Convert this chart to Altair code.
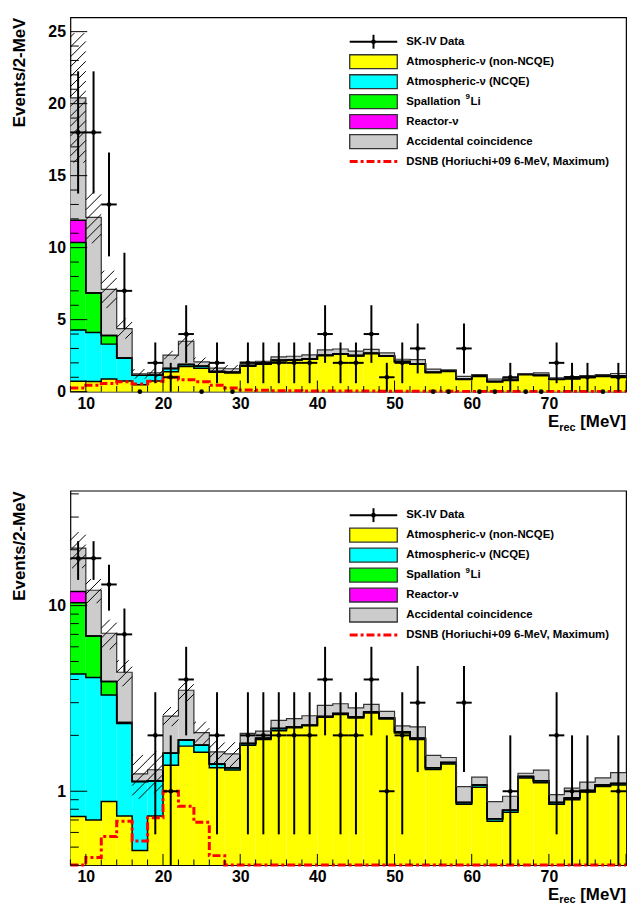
import math
import altair as alt
import pandas as pd

# ---------------- values ----------------
bin_low = list(range(8, 80, 2))          # 2-MeV bins, 8..80 MeV
sk4_data = [18, 18, 13, 7, 0, 2, 1, 4, 0, 2, 0, 2, 2, 2, 2, 2, 4, 2,
            2, 4, 1, 2, 3, 0, 0, 3, 0, 0, 1, 0, 0, 2, 1, 1, 0, 1]
atm_non_ncqe = [0.73, 0.70, 0.88, 0.735, 0.48, 0.735, 1.38, 1.75, 1.62, 1.34, 1.30, 1.77,
                1.90, 2.12, 2.20, 2.25, 2.50, 2.59, 2.48, 2.64, 2.45, 2.06, 1.90, 1.31,
                1.40, 0.85, 1.05, 0.69, 0.77, 1.18, 1.11, 0.85, 0.90, 0.99, 1.06, 1.08]
atm_ncqe = [3.55, 3.40, 2.42, 1.58, 0.65, 0.40, 0.22, 0.14, 0.15, 0.06, 0.04, 0.04,
            0.03, 0.06, 0.02, 0.02, 0.03, 0.03, 0.03, 0.03, 0.03, 0.03, 0.03, 0.03,
            0.03, 0.02, 0.03, 0.02, 0.02, 0.02, 0.03, 0.02, 0.02, 0.02, 0.02, 0.02]
spallation_li9 = [6.07, 2.75, 0.60, 0.03, 0, 0, 0, 0, 0, 0, 0, 0,
                  0, 0, 0, 0, 0, 0, 0, 0, 0, 0, 0, 0,
                  0, 0, 0, 0, 0, 0, 0, 0, 0, 0, 0, 0]
reactor_nu = [1.55, 0, 0, 0, 0, 0, 0, 0, 0, 0, 0, 0,
              0, 0, 0, 0, 0, 0, 0, 0, 0, 0, 0, 0,
              0, 0, 0, 0, 0, 0, 0, 0, 0, 0, 0, 0]
accidental = [8.5, 5.25, 3.2, 2.03, 0.11, 0.17, 0.94, 1.61, 0.30, 0.23, 0.25, 0.24,
              0.18, 0.23, 0.24, 0.28, 0.37, 0.34, 0.30, 0.27, 0.21, 0.16, 0.29, 0.22,
              0.09, 0.19, 0.11, 0.17, 0.15, 0.05, 0.16, 0.09, 0.12, 0.11, 0.10, 0.16]
bkg_err = [4.5, 1.8, 1.3, 0.7, 0.33, 0.33, 0.30, 0.50, 0.30, 0.25, 0.25, 0,
           0, 0, 0, 0, 0, 0, 0, 0, 0, 0, 0, 0,
           0, 0, 0, 0, 0, 0, 0, 0, 0, 0, 0, 0]
dsnb = [0.25, 0.44, 0.57, 0.69, 0.54, 0.72, 1.00, 0.83, 0.68, 0.45, 0.25, 0.12,
        0.09, 0.07, 0.06, 0.05, 0.05, 0.04, 0.04, 0.04, 0.03, 0.03, 0.03, 0.03,
        0.03, 0.02, 0.02, 0.02, 0.02, 0.02, 0.02, 0.02, 0.02, 0.02, 0.02, 0.02]

x_tick_labels = [10, 20, 30, 40, 50, 60, 70]
x_major_ticks = [10, 20, 30, 40, 50, 60, 70, 80]
x_minor_ticks = [v for v in range(8, 81, 2) if v % 10 != 0]
y_lin_labels = [0, 5, 10, 15, 20, 25]
y_lin_minor = [v for v in range(1, 26) if v % 5 != 0]
y_log_labels = [1, 10]
y_log_minor = [0.4, 0.5, 0.6, 0.7, 0.8, 0.9, 2, 3, 4, 5, 6, 7, 8, 9, 20, 30, 40]

# legend entries: (main text, superscript, text after superscript)
legend_labels = [("SK-IV Data", "", ""),
                 ("Atmospheric-\u03bd (non-NCQE)", "", ""),
                 ("Atmospheric-\u03bd (NCQE)", "", ""),
                 ("Spallation", "9", "Li"),
                 ("Reactor-\u03bd", "", ""),
                 ("Accidental coincidence", "", ""),
                 ("DSNB (Horiuchi+09 6-MeV, Maximum)", "", "")]
layer_colors = ["#ffff00", "#00ffff", "#00ff00", "#ff00ff", "#cccccc"]

# ---------------- layout / style ----------------
W, H = 561, 378
XDOM = [8, 80]
YLIN = [0, 26]
YLOG = [0.4, 41.6]
FONT = "Liberation Sans"
HATCH_SP = 10

bins = pd.DataFrame({"lo": bin_low, "hi": [b + 2 for b in bin_low], "n": sk4_data})
levels = [atm_non_ncqe]
for comp in (atm_ncqe, spallation_li9, reactor_nu, accidental):
    levels.append([a + b for a, b in zip(levels[-1], comp)])
total = levels[-1]


def xpix(x):
    return (x - XDOM[0]) / (XDOM[1] - XDOM[0]) * W


def xinv(p):
    return XDOM[0] + p / W * (XDOM[1] - XDOM[0])


def ypix(v, log):
    if log:
        l0, l1 = math.log10(YLOG[0]), math.log10(YLOG[1])
        v = min(max(v, YLOG[0]), YLOG[1])
        return H * (1 - (math.log10(v) - l0) / (l1 - l0))
    v = min(max(v, YLIN[0]), YLIN[1])
    return H * (1 - v / YLIN[1])


def yinv(p, log):
    if log:
        l0, l1 = math.log10(YLOG[0]), math.log10(YLOG[1])
        return 10 ** (l0 + (1 - p / H) * (l1 - l0))
    return YLIN[1] * (1 - p / H)


def step_frame(values, base_name):
    rows = []
    for i, (lo, v) in enumerate(zip(bin_low, values)):
        rows.append({"x": lo, "v": v, "lvl": base_name, "ord": 2 * i})
        rows.append({"x": lo + 2, "v": v, "lvl": base_name, "ord": 2 * i + 1})
    return rows


def text_layer(one, txt, x, y, size, align="left", baseline="middle"):
    return alt.Chart(one).mark_text(align=align, baseline=baseline, font=FONT,
                                    fontWeight="bold", fontSize=size, color="black").encode(
        x=alt.value(x), y=alt.value(y), text=alt.value(txt))


def panel(log):
    if log:
        yscale = alt.Scale(type="log", domain=YLOG, clamp=True, nice=False)
        base = 1e-3
        ylabels, ymajor, yminor = y_log_labels, y_log_labels, y_log_minor
    else:
        yscale = alt.Scale(type="linear", domain=YLIN, nice=False, zero=False)
        base = 0.0
        ylabels, ymajor, yminor = y_lin_labels, y_lin_labels, y_lin_minor
    xscale = alt.Scale(domain=XDOM, nice=False, zero=False)
    xaxis = alt.Axis(values=x_tick_labels, ticks=False, domain=False, grid=False, title=None,
                     labelFont=FONT, labelFontWeight="bold", labelFontSize=16,
                     labelColor="black", labelPadding=4, labelFlush=False)
    yaxis = alt.Axis(values=ylabels, format="d", ticks=False, domain=False, grid=False,
                     labelFont=FONT, labelFontWeight="bold", labelFontSize=16,
                     labelColor="black", labelPadding=5, labelFlush=False,
                     title="Events/2-MeV", titleFont=FONT, titleFontWeight="bold",
                     titleFontSize=17, titleColor="black", titleAngle=270,
                     titleAlign="right", titleBaseline="alphabetic", titleX=-46, titleY=0)

    def X(f):
        return alt.X(f, type="quantitative", scale=xscale, axis=xaxis)

    def Y(f):
        return alt.Y(f, type="quantitative", scale=yscale, axis=yaxis)

    layers = []
    # stacked fills
    bottoms = [[base] * len(bin_low)] + levels[:-1]
    for col, b, t in zip(layer_colors, bottoms, levels):
        d = pd.DataFrame({"lo": bin_low, "hi": [v + 2 for v in bin_low],
                          "b": [max(v, base) for v in b], "t": t})
        layers.append(alt.Chart(d).mark_rect(fill=col, strokeWidth=0).encode(
            x=X("lo"), x2="hi", y=Y("b"), y2="t"))
    # outlines of each stacked level
    srows = []
    for j, lev in enumerate(levels):
        srows += step_frame(lev, "L%d" % j)
    sdf = pd.DataFrame(srows)
    layers.append(alt.Chart(sdf[sdf.lvl != "L4"]).mark_line(color="black", strokeWidth=1.5).encode(
        x=X("x"), y=Y("v"), detail="lvl:N", order="ord:Q"))
    layers.append(alt.Chart(sdf[sdf.lvl == "L4"]).mark_line(color="#333333", strokeWidth=1.2).encode(
        x=X("x"), y=Y("v"), detail="lvl:N", order="ord:Q"))
    # hatched uncertainty band on total background
    segs = []
    for lo, t, e in zip(bin_low, total, bkg_err):
        if e <= 0:
            continue
        x0, x1 = xpix(lo), xpix(lo + 2)
        pt, pb = ypix(t + e, log), ypix(t - e, log)
        c = math.ceil((x0 + pt) / HATCH_SP) * HATCH_SP
        while c <= x1 + pb:
            xa = max(x0, c - pb)
            xb = min(x1, c - pt)
            if xb - xa > 0.5:
                segs.append({"xa": xinv(xa), "xb": xinv(xb),
                             "ya": yinv(c - xa, log), "yb": yinv(c - xb, log)})
            c += HATCH_SP
    layers.append(alt.Chart(pd.DataFrame(segs)).mark_rule(color="black", strokeWidth=1).encode(
        x=X("xa"), x2="xb", y=Y("ya"), y2="yb"))
    # DSNB expectation
    ddf = pd.DataFrame(step_frame(dsnb, "dsnb"))
    layers.append(alt.Chart(ddf).mark_line(color="#ff0000", strokeWidth=3,
                                           strokeDash=[8, 3, 3, 3]).encode(
        x=X("x"), y=Y("v"), order="ord:Q"))
    # SK-IV data
    pts = bins.copy()
    pts["c"] = pts["lo"] + 1
    pts["elo"] = [max(n - math.sqrt(n), base if log else 0.0) for n in pts["n"]]
    pts["ehi"] = [n + math.sqrt(n) for n in pts["n"]]
    if log:
        pts = pts[pts.n > 0]
    nz = pts[pts.n > 0]
    layers.append(alt.Chart(nz).mark_rule(color="black", strokeWidth=2).encode(
        x=X("c"), y=Y("elo"), y2="ehi"))
    layers.append(alt.Chart(nz).mark_rule(color="black", strokeWidth=2).encode(
        x=X("lo"), x2="hi", y=Y("n")))
    layers.append(alt.Chart(pts).mark_point(filled=True, shape="circle", size=22,
                                            color="black", opacity=1).encode(
        x=X("c"), y=Y("n")))
    # inside ticks (ROOT style)
    for vals, ln in ((ymajor, 17), (yminor, 8.5)):
        layers.append(alt.Chart(pd.DataFrame({"v": vals})).mark_rule(color="black", strokeWidth=1).encode(
            x=alt.value(0), x2=alt.value(ln), y=Y("v")))
    for vals, ln in ((x_major_ticks, 11.3), (x_minor_ticks, 5.7)):
        layers.append(alt.Chart(pd.DataFrame({"v": vals})).mark_rule(color="black", strokeWidth=1).encode(
            x=X("v"), y=alt.value(H), y2=alt.value(H - ln)))
    # legend
    one = pd.DataFrame({"k": [0]})
    for i, (lab, sup, after) in enumerate(legend_labels):
        yc = 24.7 + 20.17 * i
        if i == 0:
            layers.append(alt.Chart(one).mark_rule(color="black", strokeWidth=2).encode(
                x=alt.value(282), x2=alt.value(330), y=alt.value(yc)))
            layers.append(alt.Chart(one).mark_rule(color="black", strokeWidth=2).encode(
                x=alt.value(306), y=alt.value(yc - 7), y2=alt.value(yc + 7)))
            layers.append(alt.Chart(one).mark_point(filled=True, size=22, color="black", opacity=1).encode(
                x=alt.value(306), y=alt.value(yc)))
        elif i == 6:
            layers.append(alt.Chart(one).mark_rule(color="#ff0000", strokeWidth=3,
                                                   strokeDash=[8, 3, 3, 3]).encode(
                x=alt.value(282), x2=alt.value(330), y=alt.value(yc)))
        else:
            layers.append(alt.Chart(one).mark_rect(fill=layer_colors[i - 1], stroke="#333333",
                                                   strokeWidth=1.3).encode(
                x=alt.value(282), x2=alt.value(330), y=alt.value(yc - 7), y2=alt.value(yc + 7)))
        layers.append(text_layer(one, lab, 339, yc, 11.5))
        if sup:
            layers.append(text_layer(one, sup, 399, yc - 4.5, 8))
            layers.append(text_layer(one, after, 404, yc, 11.5))
    # x-axis title E_rec [MeV], right-aligned to the frame
    ty = H + (36 if not log else 35)
    for txt, xx, fs, dy in (("E", W - 67.5, 17, 0), ("rec", W - 51, 11, 3.5), ("[MeV]", W, 17, 0)):
        layers.append(text_layer(one, txt, xx, ty + dy, fs, align="right", baseline="alphabetic"))
    return alt.layer(*layers).properties(width=W, height=H)


chart = alt.vconcat(panel(False), panel(True), spacing=100, bounds="flush").properties(
    padding={"left": 2, "top": 4, "right": 0, "bottom": 0}
).configure_view(stroke="black", strokeWidth=1.2)

chart.save("out.html", embed_options={"renderer": "svg", "actions": False})
